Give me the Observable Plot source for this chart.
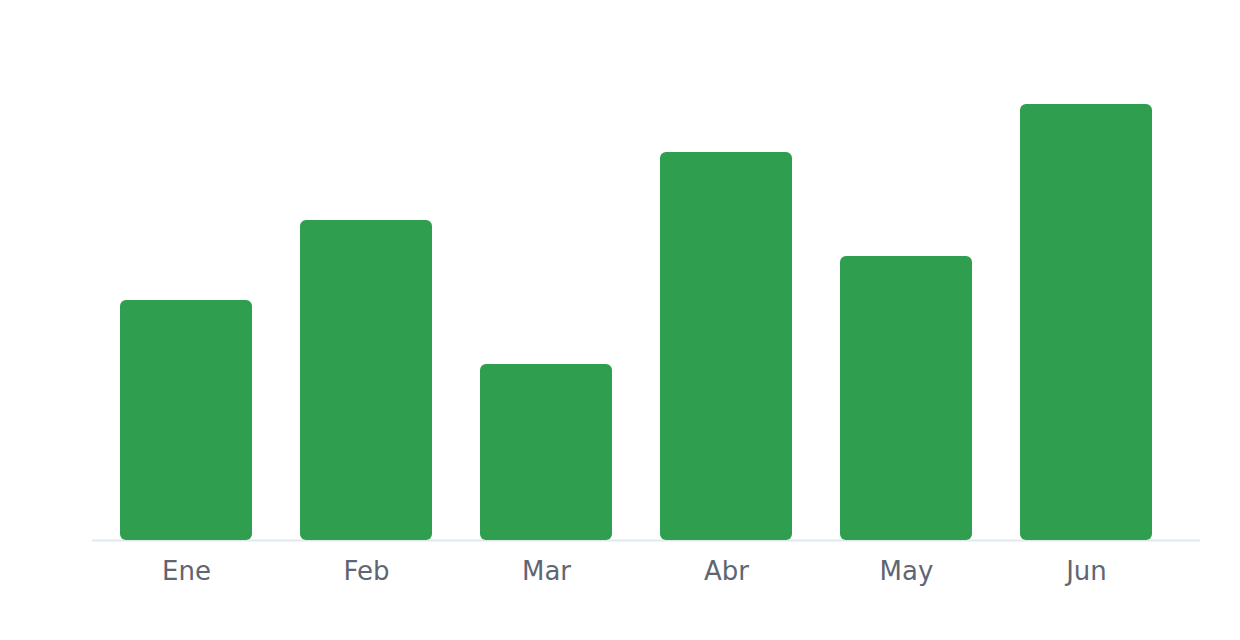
<!DOCTYPE html>
<html>
<head>
<meta charset="utf-8">
<script src="https://cdn.jsdelivr.net/npm/d3@7"></script>
<script src="https://cdn.jsdelivr.net/npm/@observablehq/plot@0.6"></script>
<style>
  html, body { margin: 0; padding: 0; background: #ffffff; }
  #chart svg { display: block; }
</style>
</head>
<body>
<div id="chart"></div>
<script>
const months = ["Ene", "Feb", "Mar", "Abr", "May", "Jun"];
const values = [120, 160, 88, 194, 142, 218];

const data = months.map((m, i) => ({month: m, value: values[i]}));

const chart = Plot.plot({
  width: 1240,
  height: 640,
  marginTop: 20,
  marginBottom: 100,
  marginLeft: 72,
  marginRight: 40,
  style: {
    fontFamily: "DejaVu Sans, sans-serif",
    fontSize: "26px",
    color: "#5f6673",
    background: "#ffffff"
  },
  x: {domain: months, padding: 0.2667, round: false, label: null},
  y: {domain: [0, 260], axis: null},
  marks: [
    Plot.ruleY([0], {stroke: "#e2e8f0", strokeWidth: 2, insetLeft: 20}),
    Plot.barY(data, {x: "month", y: "value", fill: "#2f9e4f", rx: 6}),
    Plot.axisX({tickSize: 0, tickPadding: 21, label: null})
  ]
});
document.getElementById("chart").appendChild(chart);
</script>
</body>
</html>
